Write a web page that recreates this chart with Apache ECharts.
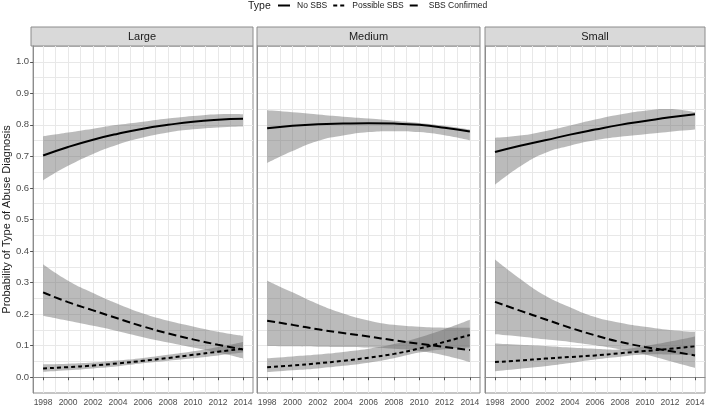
<!DOCTYPE html>
<html><head><meta charset="utf-8">
<script src="https://cdn.jsdelivr.net/npm/echarts@6/dist/echarts.min.js"></script>
<style>html,body{margin:0;padding:0;background:#fff}#c{width:709px;height:408px}</style>
</head><body><div id="c"></div>
<script>
// ---- data ----
const years = [1998, 2000, 2002, 2004, 2006, 2008, 2010, 2012, 2014];
const panelNames = ['Large', 'Medium', 'Small'];
const typeNames = ['No SBS', 'Possible SBS', 'SBS Confirmed'];
const xTickLabels = [1998, 2000, 2002, 2004, 2006, 2008, 2010, 2012, 2014];
const xMinorBreaks = [1999, 2001, 2003, 2005, 2007, 2009, 2011, 2013];
const yTickLabels = [0, 0.1, 0.2, 0.3, 0.4, 0.5, 0.6, 0.7, 0.8, 0.9, 1.0];
const yMinorBreaks = [0.05, 0.15, 0.25, 0.35, 0.45, 0.55, 0.65, 0.75, 0.85, 0.95];

// Large
const noSBS_L      = [0.703, 0.730, 0.753, 0.772, 0.788, 0.800, 0.810, 0.816, 0.819];
const noSBS_L_lo   = [0.624, 0.670, 0.708, 0.738, 0.760, 0.776, 0.786, 0.792, 0.795];
const noSBS_L_hi   = [0.764, 0.776, 0.788, 0.800, 0.810, 0.820, 0.828, 0.834, 0.834];
const possible_L    = [0.028, 0.032, 0.037, 0.044, 0.052, 0.061, 0.071, 0.081, 0.090];
const possible_L_lo = [0.017, 0.022, 0.028, 0.035, 0.044, 0.052, 0.060, 0.069, 0.078];
const possible_L_hi = [0.041, 0.043, 0.047, 0.053, 0.061, 0.071, 0.082, 0.096, 0.112];
const confirmed_L    = [0.269, 0.238, 0.212, 0.186, 0.161, 0.139, 0.120, 0.103, 0.088];
const confirmed_L_lo = [0.195, 0.179, 0.163, 0.146, 0.127, 0.110, 0.094, 0.078, 0.059];
const confirmed_L_hi = [0.358, 0.306, 0.267, 0.232, 0.202, 0.179, 0.161, 0.144, 0.131];
// Medium
const noSBS_M      = [0.789, 0.797, 0.802, 0.804, 0.805, 0.804, 0.800, 0.791, 0.779];
const noSBS_M_lo   = [0.679, 0.717, 0.749, 0.766, 0.777, 0.780, 0.777, 0.767, 0.751];
const noSBS_M_hi   = [0.846, 0.840, 0.833, 0.826, 0.820, 0.813, 0.806, 0.797, 0.785];
const possible_M    = [0.032, 0.037, 0.044, 0.052, 0.062, 0.074, 0.091, 0.112, 0.134];
const possible_M_lo = [0.016, 0.022, 0.028, 0.036, 0.046, 0.060, 0.078, 0.089, 0.094];
const possible_M_hi = [0.060, 0.066, 0.072, 0.080, 0.090, 0.105, 0.126, 0.152, 0.182];
const confirmed_M    = [0.179, 0.166, 0.152, 0.140, 0.129, 0.117, 0.106, 0.096, 0.086];
const confirmed_M_lo = [0.099, 0.098, 0.097, 0.096, 0.094, 0.090, 0.083, 0.069, 0.048];
const confirmed_M_hi = [0.306, 0.269, 0.232, 0.202, 0.180, 0.166, 0.160, 0.157, 0.157];
// Small
const noSBS_S      = [0.714, 0.734, 0.751, 0.769, 0.785, 0.800, 0.812, 0.824, 0.834];
const noSBS_S_lo   = [0.610, 0.668, 0.711, 0.734, 0.751, 0.762, 0.770, 0.778, 0.785];
const noSBS_S_hi   = [0.759, 0.766, 0.780, 0.798, 0.817, 0.833, 0.845, 0.850, 0.840];
const possible_S    = [0.048, 0.053, 0.059, 0.064, 0.069, 0.076, 0.083, 0.090, 0.098];
const possible_S_lo = [0.019, 0.027, 0.035, 0.045, 0.056, 0.065, 0.072, 0.072, 0.069];
const possible_S_hi = [0.107, 0.103, 0.099, 0.094, 0.090, 0.088, 0.099, 0.113, 0.129];
const confirmed_S    = [0.239, 0.211, 0.184, 0.157, 0.133, 0.112, 0.096, 0.083, 0.069];
const confirmed_S_lo = [0.136, 0.129, 0.120, 0.112, 0.101, 0.088, 0.072, 0.051, 0.030];
const confirmed_S_hi = [0.373, 0.312, 0.259, 0.222, 0.191, 0.173, 0.160, 0.150, 0.144];

const panels = [
  [[noSBS_L, noSBS_L_lo, noSBS_L_hi], [possible_L, possible_L_lo, possible_L_hi], [confirmed_L, confirmed_L_lo, confirmed_L_hi]],
  [[noSBS_M, noSBS_M_lo, noSBS_M_hi], [possible_M, possible_M_lo, possible_M_hi], [confirmed_M, confirmed_M_lo, confirmed_M_hi]],
  [[noSBS_S, noSBS_S_lo, noSBS_S_hi], [possible_S, possible_S_lo, possible_S_hi], [confirmed_S, confirmed_S_lo, confirmed_S_hi]]
];

// ---- layout / style ----
const FONT = 'Liberation Sans';
const gridBoxes = [
  {left: 31, top: 46, width: 222, height: 347},
  {left: 257, top: 46, width: 223, height: 347},
  {left: 485, top: 46, width: 220, height: 347}
];
const XMIN = 1997.2, XMAX = 2014.8, YMIN = -0.05, YMAX = 1.05;
const lineTypes = ['solid', [4, 3], [8, 4]];
const bandColor = 'rgba(105,105,105,0.45)';
const gridLineColor = '#e8e8e8';
const borderColor = '#8c8c8c';
const SMOOTH = 0.5;

const grids = gridBoxes.map(b => ({left: b.left, top: b.top, width: b.width, height: b.height,
  show: true, borderColor: borderColor, borderWidth: 1}));

const xAxes = [], yAxes = [];
gridBoxes.forEach((b, i) => {
  xAxes.push({type: 'value', gridIndex: i, min: XMIN, max: XMAX,
    axisLine: {show: true, lineStyle: {color: borderColor, width: 1}},
    axisTick: {show: true, length: 3, lineStyle: {color: '#555'}, customValues: xTickLabels},
    axisLabel: {show: true, customValues: xTickLabels, formatter: v => String(v),
      fontFamily: FONT, fontSize: 8.5, color: '#4d4d4d', margin: 5},
    splitLine: {show: true, lineStyle: {color: gridLineColor, width: 1}}});
  yAxes.push({type: 'value', gridIndex: i, min: YMIN, max: YMAX,
    name: i === 0 ? 'Probability of Type of Abuse Diagnosis' : '',
    nameLocation: 'middle', nameGap: 19, nameRotate: 90,
    nameTextStyle: {fontFamily: FONT, fontSize: 11, color: '#1a1a1a'},
    axisLine: {show: true, lineStyle: {color: borderColor, width: 1}},
    axisTick: {show: i === 0, length: 3, lineStyle: {color: '#555'}, customValues: yTickLabels},
    axisLabel: {show: i === 0, customValues: yTickLabels, formatter: v => v.toFixed(1),
      fontFamily: FONT, fontSize: 9.5, color: '#4d4d4d', margin: 4},
    splitLine: {show: true, lineStyle: {color: gridLineColor, width: 1}}});
});
// minor grid axes
gridBoxes.forEach((b, i) => {
  xAxes.push({type: 'value', gridIndex: i, min: XMIN, max: XMAX,
    axisLine: {show: false}, axisLabel: {show: false},
    axisTick: {show: false, customValues: xMinorBreaks},
    splitLine: {show: true, lineStyle: {color: gridLineColor, width: 1}}});
  yAxes.push({type: 'value', gridIndex: i, min: YMIN, max: YMAX,
    axisLine: {show: false}, axisLabel: {show: false},
    axisTick: {show: false, customValues: yMinorBreaks},
    splitLine: {show: true, lineStyle: {color: gridLineColor, width: 1}}});
});

// smooth bezier path through pixel points (same scheme as ECharts line smoothing)
function curveSegs(pts) {
  const n = pts.length;
  const cpNext = [], cpPrev = [];
  for (let k = 0; k < n; k++) {
    if (k === 0 || k === n - 1) { cpNext[k] = pts[k]; cpPrev[k] = pts[k]; continue; }
    const p = pts[k - 1], c = pts[k], nx = pts[k + 1];
    const vx = nx[0] - p[0], vy = nx[1] - p[1];
    const lp = Math.hypot(c[0] - p[0], c[1] - p[1]);
    const ln = Math.hypot(nx[0] - c[0], nx[1] - c[1]);
    const r = ln / (ln + lp);
    cpNext[k] = [c[0] + vx * SMOOTH * r, c[1] + vy * SMOOTH * r];
    cpPrev[k] = [c[0] - vx * SMOOTH * (1 - r), c[1] - vy * SMOOTH * (1 - r)];
  }
  let d = '';
  for (let k = 0; k < n - 1; k++) {
    const a = cpNext[k], b = cpPrev[k + 1], e = pts[k + 1];
    d += ' C' + a[0] + ',' + a[1] + ' ' + b[0] + ',' + b[1] + ' ' + e[0] + ',' + e[1];
  }
  return d;
}

const zip = arr => years.map((y, k) => [y, arr[k]]);
const lineSeries = [], bandSeries = [];
panels.forEach((p, i) => {
  p.forEach((t, j) => {
    const [mid, lo, hi] = t;
    lineSeries.push({type: 'line', name: typeNames[j], xAxisIndex: i, yAxisIndex: i,
      data: zip(mid), smooth: SMOOTH, symbol: 'none', z: 3, silent: true,
      lineStyle: {color: '#000', width: 2, type: lineTypes[j]}, itemStyle: {color: '#000'}});
    bandSeries.push({type: 'custom', xAxisIndex: i, yAxisIndex: i, z: 2, silent: true,
      data: zip(lo),
      renderItem: function (params, api) {
        if (params.dataIndex !== 0) return null;
        const up = years.map((y, k) => api.coord([y, hi[k]]));
        const dn = years.map((y, k) => api.coord([y, lo[k]])).reverse();
        const d = 'M' + up[0][0] + ',' + up[0][1] + curveSegs(up) +
          ' L' + dn[0][0] + ',' + dn[0][1] + curveSegs(dn) + ' Z';
        return {type: 'path', shape: {pathData: d}, style: {fill: bandColor, stroke: null}};
      }});
  });
});
const series = lineSeries.concat(bandSeries);

const graphics = [{type: 'text', left: 248, top: 1, style: {text: 'Type', font: '10.5px ' + FONT, fill: '#1a1a1a'}}];
gridBoxes.forEach((b, i) => {
  graphics.push({type: 'rect', shape: {x: b.left, y: 27, width: b.width, height: 19},
    style: {fill: '#d9d9d9', stroke: borderColor, lineWidth: 1}});
  graphics.push({type: 'text', x: b.left + b.width / 2, y: 36.5,
    style: {text: panelNames[i], font: '11px ' + FONT, fill: '#1a1a1a', align: 'center', verticalAlign: 'middle'}});
});

const chart = echarts.init(document.getElementById('c'), null, {renderer: 'canvas'});
chart.setOption({
  animation: false,
  backgroundColor: '#fff',
  grid: grids,
  xAxis: xAxes,
  yAxis: yAxes,
  legend: {data: typeNames, left: 277, top: 1, padding: 0, itemWidth: 12, itemHeight: 10, itemGap: 5,
    selectedMode: false, itemStyle: {opacity: 0},
    textStyle: {fontFamily: FONT, fontSize: 8.5, color: '#1a1a1a', padding: [0, 0, 0, 2]}},
  series: series,
  graphic: graphics
});
</script></body></html>
